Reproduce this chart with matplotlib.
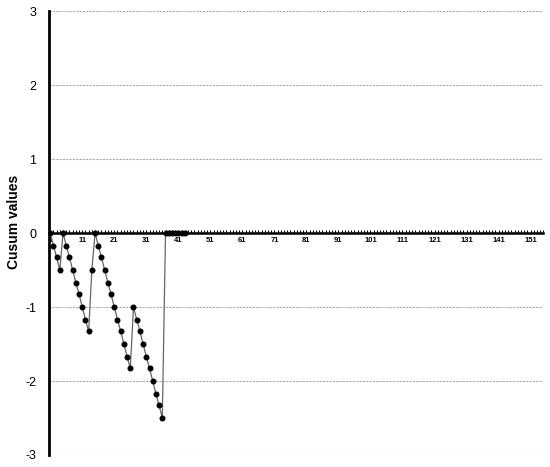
import matplotlib
matplotlib.use("Agg")
import matplotlib.pyplot as plt
from matplotlib.ticker import MultipleLocator, FixedLocator

plt.rcParams['font.family'] = ['Liberation Sans', 'DejaVu Sans']

# Data
observations = list(range(1, 44))
cusum = [0, -0.17, -0.33, -0.5,
         0, -0.17, -0.33, -0.5, -0.67, -0.83, -1.0, -1.17, -1.33,
         -0.5,
         0, -0.17, -0.33, -0.5, -0.67, -0.83, -1.0, -1.17, -1.33, -1.5, -1.67, -1.83,
         -1.0, -1.17, -1.33, -1.5, -1.67, -1.83, -2.0, -2.17, -2.33, -2.5,
         0, 0, 0, 0, 0, 0, 0]
x_tick_labels = [str(v) for v in range(1, 152, 10)]
y_ticks = [-3, -2, -1, 0, 1, 2, 3]
y_label = "Cusum values"

fig = plt.figure(figsize=(5.5, 4.67), dpi=100)
ax = fig.add_axes([0.089, 0.0257, 0.899, 0.9507])

ax.plot(observations, cusum, color='#666666', lw=0.9, marker='o',
        markersize=3.3, markerfacecolor='black', markeredgecolor='black', zorder=3)

ax.set_xlim(0.6, 155.0)
ax.set_ylim(-3, 3)

# gridlines
for yv in y_ticks:
    if yv != 0:
        ax.axhline(yv, color='#aaaaaa', lw=0.8, ls=(0, (2, 1)), zorder=1)

ax.spines['top'].set_visible(False)
ax.spines['right'].set_visible(False)
ax.spines['left'].set_linewidth(2)
ax.spines['left'].set_color('black')
ax.spines['bottom'].set_position(('data', 0))
ax.spines['bottom'].set_linewidth(1.8)
ax.spines['bottom'].set_zorder(2)

ax.set_yticks(y_ticks)
ax.set_yticklabels([str(v) for v in y_ticks], fontsize=9)
ax.tick_params(axis='y', length=0, pad=9)

ax.xaxis.set_major_locator(FixedLocator([int(s) for s in x_tick_labels]))
ax.set_xticklabels(x_tick_labels, fontsize=5.5, fontweight='bold')
ax.xaxis.set_minor_locator(MultipleLocator(1))
ax.tick_params(axis='x', which='both', direction='in', length=2.5, width=0.8, pad=3)

ax.set_ylabel(y_label, fontsize=10, fontweight='bold')
ax.yaxis.set_label_coords(-0.057, 0.525)

fig.savefig('out.png', dpi=100)
